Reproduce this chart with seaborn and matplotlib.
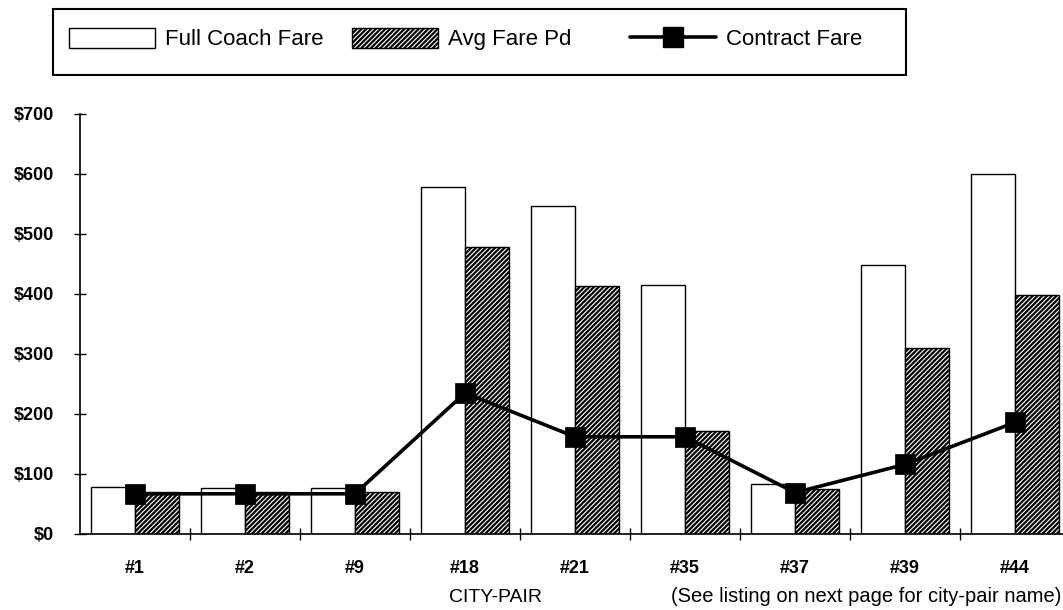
import matplotlib
matplotlib.use("Agg")
import matplotlib.pyplot as plt
import seaborn as sns
import pandas as pd
import numpy as np
from matplotlib.patches import Patch, Rectangle
from matplotlib.lines import Line2D

cities = ["#1", "#2", "#9", "#18", "#21", "#35", "#37", "#39", "#44"]
full_coach = [78, 77, 76, 578, 547, 415, 83, 448, 600]
avg_fare = [70, 70, 70, 478, 413, 172, 75, 310, 398]
contract = [67, 67, 67, 235, 162, 162, 69, 116, 186]
yticks = [0, 100, 200, 300, 400, 500, 600, 700]
ytick_labels = ["$0", "$100", "$200", "$300", "$400", "$500", "$600", "$700"]

sns.set_theme(style="white")
plt.rcParams['font.family'] = ['Liberation Sans', 'DejaVu Sans']
plt.rcParams['hatch.linewidth'] = 1.6
plt.rcParams['text.color'] = 'black'
plt.rcParams['xtick.color'] = 'black'
plt.rcParams['ytick.color'] = 'black'
plt.rcParams['axes.labelcolor'] = 'black'

HATCH = "///////"

df_bars = pd.DataFrame({
    "city": cities * 2,
    "fare": full_coach + avg_fare,
    "series": ["Full Coach Fare"] * len(cities) + ["Avg Fare Pd"] * len(cities),
})
df_line = pd.DataFrame({"city": cities, "fare": contract})

fig = plt.figure(figsize=(10.63, 6.10), dpi=100)
W, H = 1063, 610
ax = fig.add_axes([80 / W, 1 - 534 / H, (1063 - 80) / W, 420 / H])

sns.barplot(data=df_bars, x="city", y="fare", hue="series", order=cities,
            hue_order=["Full Coach Fare", "Avg Fare Pd"],
            palette=["white", "white"], edgecolor="black", linewidth=1.0,
            width=0.8, gap=0, legend=False, ax=ax)

n = len(cities)
for i, p in enumerate(ax.patches):
    if i >= n:
        p.set_hatch(HATCH)
    p.set_edgecolor("black")

sns.pointplot(data=df_line, x="city", y="fare", order=cities, color="black",
              markers="s", markersize=13, linewidth=2.6, ax=ax)

ax.set_ylim(0, 700)
ax.set_xlim(-0.5, (1063 - 135) / 110)
ax.set_yticks(yticks)
ax.set_yticklabels(ytick_labels, fontsize=13, fontweight="bold")
ax.set_xticks(range(n))
ax.set_xticklabels(cities, fontsize=13, fontweight="bold")
ax.set_xticks(np.arange(0.5, n - 0.5, 1), minor=True)
ax.tick_params(axis="x", which="major", bottom=True, length=0, pad=19)
ax.tick_params(axis="x", which="minor", bottom=True, direction="inout", length=9, width=1.0, color="black")
ax.tick_params(axis="y", which="major", left=True, direction="inout", length=9, width=1.0, color="black", pad=14)
ax.set_xlabel("")
ax.set_ylabel("")
for s in ["top", "right"]:
    ax.spines[s].set_visible(False)
for s in ["left", "bottom"]:
    ax.spines[s].set_color("black")
    ax.spines[s].set_linewidth(1.2)

fig.text(496 / W, 1 - 597 / H, "CITY-PAIR", fontsize=14, ha="center", va="center")
fig.text(866 / W, 1 - 596 / H, "(See listing on next page for city-pair name)",
         fontsize=14.5, ha="center", va="center")

# legend frame
fig.patches.append(Rectangle((53 / W, 1 - 75 / H), (906 - 53) / W, 66 / H,
                             transform=fig.transFigure, facecolor="none",
                             edgecolor="black", linewidth=1.5))

handles = [
    Patch(facecolor="white", edgecolor="black", linewidth=1.0),
    Patch(facecolor="white", edgecolor="black", hatch=HATCH, linewidth=1.0),
    Line2D([0], [0], color="black", linewidth=2.6, marker="s", markersize=14),
]
labels = ["Full Coach Fare", "Avg Fare Pd", "Contract Fare"]
leg_x = [69, 352, 630]
for h, lab, x0 in zip(handles, labels, leg_x):
    fig.legend([h], [lab], loc="center left",
               bbox_to_anchor=(x0 / W, 1 - 39 / H),
               fontsize=16, handlelength=3.87, handleheight=1.0,
               frameon=False, borderpad=0, borderaxespad=0,
               handletextpad=0.45)

fig.savefig("out.png", dpi=100, facecolor="white")
